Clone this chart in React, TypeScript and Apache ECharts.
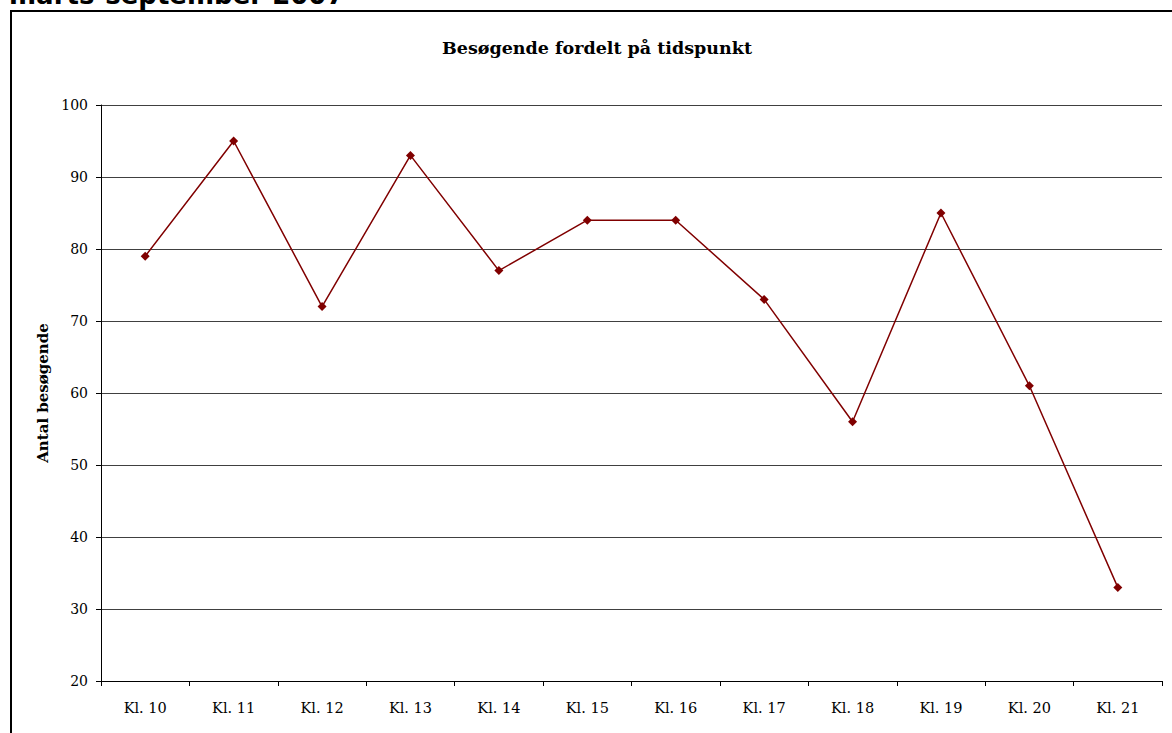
import React, { useEffect, useRef } from "react";
import * as echarts from "echarts";

const categories = ["Kl. 10", "Kl. 11", "Kl. 12", "Kl. 13", "Kl. 14", "Kl. 15", "Kl. 16", "Kl. 17", "Kl. 18", "Kl. 19", "Kl. 20", "Kl. 21"];
const visitors = [79, 95, 72, 93, 77, 84, 84, 73, 56, 85, 61, 33];
const yMin = 20;
const yMax = 100;
const yStep = 10;

const pageHeading = "marts-september 2007";
const chartTitle = "Besøgende fordelt på tidspunkt";
const yAxisName = "Antal besøgende";

const SERIF = "'DejaVu Serif', 'Liberation Serif', serif";

export default function App() {
  const ref = useRef<HTMLDivElement>(null);
  useEffect(() => {
    if (!ref.current) return;
    const chart = echarts.init(ref.current, undefined, { renderer: "svg" });
    chart.setOption({
      animation: false,
      backgroundColor: "#ffffff",
      textStyle: { fontFamily: SERIF },
      graphic: [
        {
          type: "text",
          x: 9,
          y: -5,
          z: 1,
          style: {
            text: pageHeading,
            font: "bold 26px 'DejaVu Sans', Verdana, sans-serif",
            fill: "#000000",
            verticalAlign: "middle",
            align: "left",
          },
        },
        {
          type: "rect",
          z: 2,
          shape: { x: 11, y: 11, width: 1300, height: 900 },
          style: { fill: "#ffffff", stroke: "#000000", lineWidth: 2 },
        },
        {
          type: "text",
          x: 597,
          y: 48,
          z: 3,
          style: {
            text: chartTitle,
            font: `bold 17.5px ${SERIF}`,
            fill: "#000000",
            align: "center",
            verticalAlign: "middle",
          },
        },
      ],
      grid: { left: 101, top: 105, width: 1061, height: 576, containLabel: false, z: 5 },
      xAxis: {
        type: "category",
        data: categories,
        boundaryGap: true,
        z: 5,
        axisLine: { show: true, lineStyle: { color: "#000000", width: 1 } },
        axisTick: { show: true, alignWithLabel: false, length: 5, lineStyle: { color: "#000000" } },
        axisLabel: { color: "#000000", fontSize: 14.5, fontFamily: SERIF, margin: 19, interval: 0 },
        splitLine: { show: false },
      },
      yAxis: {
        type: "value",
        min: yMin,
        max: yMax,
        interval: yStep,
        z: 5,
        name: yAxisName,
        nameLocation: "middle",
        nameGap: 48,
        nameRotate: 90,
        nameTextStyle: { color: "#000000", fontSize: 15, fontWeight: "bold", fontFamily: SERIF },
        axisLine: { show: true, lineStyle: { color: "#000000", width: 1 } },
        axisTick: { show: true, length: 5, lineStyle: { color: "#000000" } },
        axisLabel: { color: "#000000", fontSize: 14, fontFamily: SERIF, margin: 13 },
        splitLine: { show: true, lineStyle: { color: "#404040", width: 1 } },
      },
      series: [
        {
          type: "line",
          data: visitors,
          z: 6,
          symbol: "diamond",
          symbolSize: 9,
          showSymbol: true,
          lineStyle: { color: "#800000", width: 1.5 },
          itemStyle: { color: "#800000" },
        },
      ],
    });
    return () => chart.dispose();
  }, []);
  return (
    <div
      ref={ref}
      style={{ position: "fixed", left: 0, top: 0, width: 1172, height: 733 }}
    />
  );
}
